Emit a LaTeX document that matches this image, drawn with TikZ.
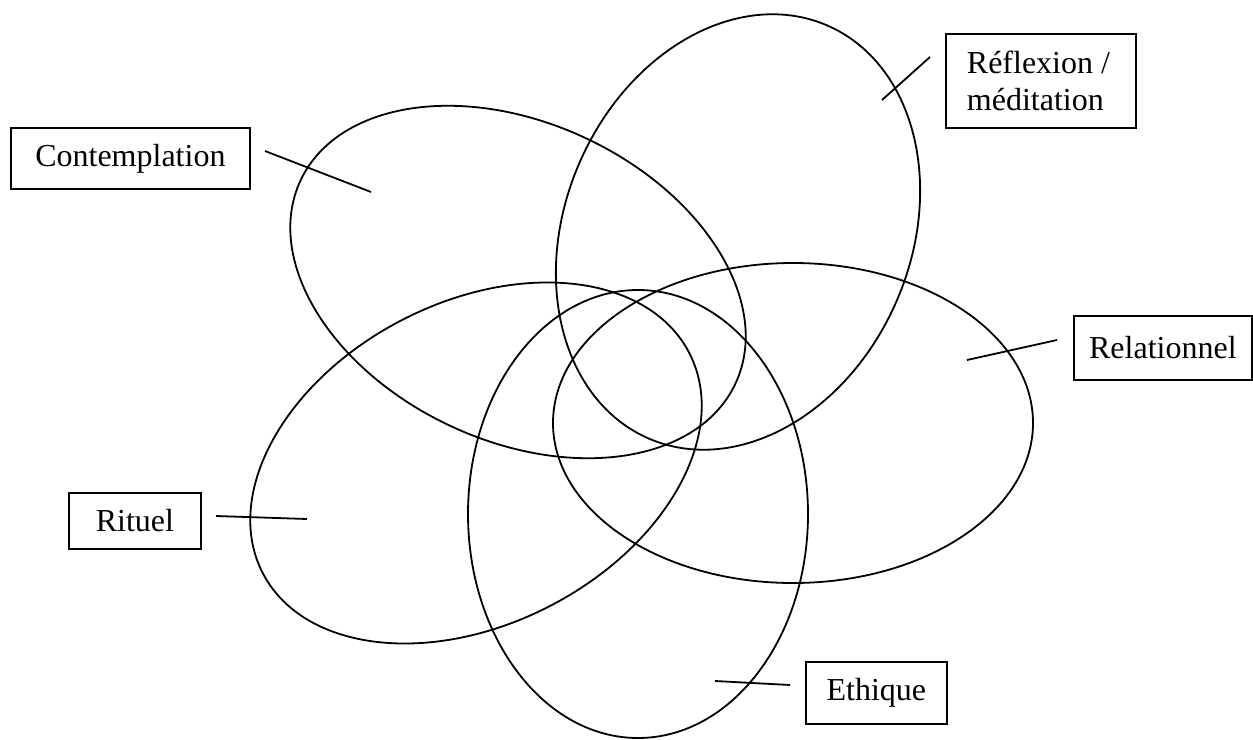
\documentclass[tikz,border=0pt]{standalone}
\usepackage{fontspec}
\setmainfont{Liberation Serif}
\usepackage{tikz}
\usetikzlibrary{positioning}

\begin{document}
\begin{tikzpicture}[x=1pt,y=-1pt,line width=1.8pt,
        labelbox/.style={draw, inner sep=0pt, anchor=north west,
                         font=\fontsize{32}{37}\selectfont}]
                \useasboundingbox (0,0) rectangle (1253,739);

                % the five ellipses
                \draw[rotate around={-25:(518,282)}] (518,282) ellipse (240 and 159);
                \draw[rotate around={66.7:(738,232)}] (738,232) ellipse (225 and 173);
                \draw (793,423) ellipse (240 and 160);
                \draw[rotate around={27.3:(476,463)}] (476,463) ellipse (240 and 161);
                \draw (638,514) ellipse (170 and 224);

                % labels
                \node [labelbox, minimum width=239pt, minimum height=61pt]
                                        (contemplation) at (10,127) {Contemplation};
                \node [labelbox, inner xsep=21pt, text width=148pt,
                        minimum height=94pt, align=flush left]
                                        (reflexion) at (945,33) {Réflexion /\\méditation};
                \node [labelbox, minimum width=178pt, minimum height=64pt]
                                        (relationnel) at (1073,315) {Relationnel};
                \node [labelbox, minimum width=132pt, minimum height=56pt]
                                        (rituel) at (68,492) {Rituel};
                \node [labelbox, minimum width=141pt, minimum height=62pt]
                                        (ethique) at (805,661) {Ethique};

                % pointers
                \coordinate (cont1) at (265,151);
                \coordinate (cont2) at (371,192);
                \coordinate (refl1) at (930,57);
                \coordinate (refl2) at (882,100);
                \coordinate (rela1) at (1057,340);
                \coordinate (rela2) at (967,360);
                \coordinate (ritu1) at (216,516);
                \coordinate (ritu2) at (307,519);
                \coordinate (ethi1) at (790,685);
                \coordinate (ethi2) at (715,681);
                \draw (cont1) -- (cont2);
                \draw (refl1) -- (refl2);
                \draw (rela1) -- (rela2);
                \draw (ritu1) -- (ritu2);
                \draw (ethi1) -- (ethi2);
\end{tikzpicture}
\end{document}
